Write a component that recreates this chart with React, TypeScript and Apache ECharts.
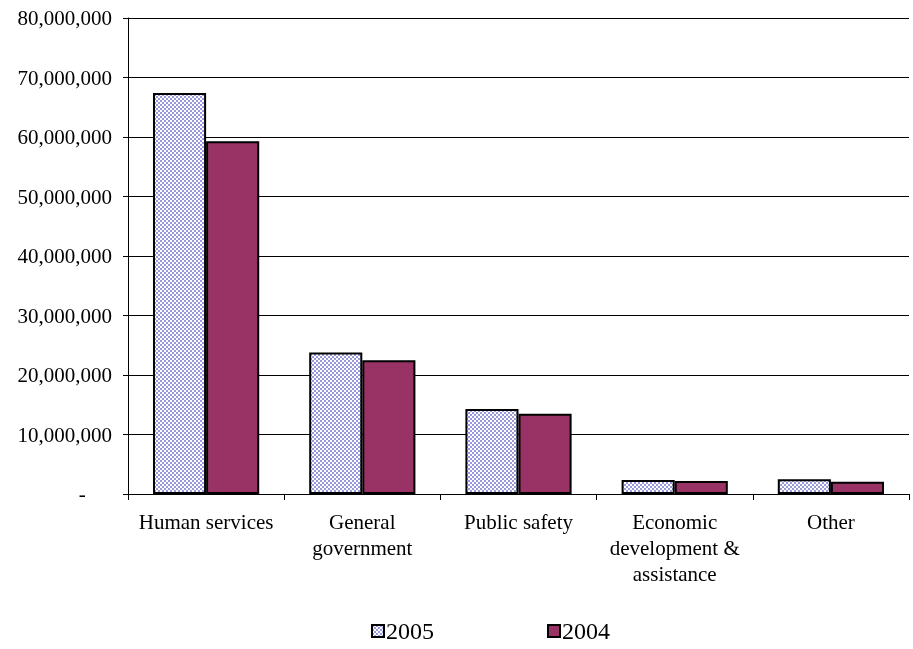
import React, { useEffect, useRef } from "react";
import * as echarts from "echarts";

const categories = [
  "Human services",
  "General\ngovernment",
  "Public safety",
  "Economic\ndevelopment &\nassistance",
  "Other",
];
const series2005 = [67400000, 23800000, 14300000, 2350000, 2500000];
const series2004 = [59300000, 22500000, 13500000, 2200000, 2050000];
const seriesNames = ["2005", "2004"];

function makePattern(): HTMLCanvasElement {
  const c = document.createElement("canvas");
  c.width = 4;
  c.height = 4;
  const ctx = c.getContext("2d")!;
  ctx.fillStyle = "#ffffff";
  ctx.fillRect(0, 0, 4, 4);
  ctx.fillStyle = "#9999dd";
  ctx.fillRect(0, 0, 2, 2);
  ctx.fillRect(2, 2, 2, 2);
  return c;
}

const FONT = "Liberation Serif";

export default function App() {
  const ref = useRef<HTMLDivElement>(null);
  useEffect(() => {
    if (!ref.current) return;
    const chart = echarts.init(ref.current, undefined, { renderer: "svg" });
    const pattern = makePattern();
    chart.setOption({
      animation: false,
      textStyle: { fontFamily: FONT, fontSize: 21 },
      grid: { left: 128, right: 4, top: 18, bottom: 155, containLabel: false },
      legend: {
        bottom: 1,
        left: 366,
        itemGap: 113,
        itemWidth: 12,
        itemHeight: 12,
        icon: "rect",
        textStyle: { fontFamily: FONT, fontSize: 24, color: "#000", padding: [0, 0, 0, -3] },
        data: seriesNames,
      },
      xAxis: {
        type: "category",
        data: categories,
        axisLine: { lineStyle: { color: "#000", width: 1 } },
        axisTick: { show: true, length: 6, lineStyle: { color: "#000" } },
        axisLabel: {
          color: "#000",
          fontFamily: FONT,
          fontSize: 21,
          lineHeight: 26,
          margin: 15,
          interval: 0,
        },
      },
      yAxis: {
        type: "value",
        min: 0,
        max: 80000000,
        interval: 10000000,
        axisLine: { show: true, lineStyle: { color: "#000", width: 1 } },
        axisTick: { show: true, inside: false, length: 5, lineStyle: { color: "#000" } },
        splitLine: { lineStyle: { color: "#000", width: 1 } },
        axisLabel: {
          color: "#000",
          fontFamily: FONT,
          fontSize: 21,
          margin: 16,
          formatter: (v: number) =>
            v === 0 ? "-     " : v.toString().replace(/\B(?=(\d{3})+(?!\d))/g, ","),
        },
      },
      series: [
        {
          name: seriesNames[0],
          type: "bar",
          data: series2005,
          barGap: "0%",
          barCategoryGap: "32%",
          itemStyle: {
            color: { image: pattern, repeat: "repeat" },
            borderColor: "#000",
            borderWidth: 2,
          },
        },
        {
          name: seriesNames[1],
          type: "bar",
          data: series2004,
          barGap: "0%",
          barCategoryGap: "32%",
          itemStyle: { color: "#993366", borderColor: "#000", borderWidth: 2 },
        },
      ],
    });
    return () => chart.dispose();
  }, []);
  return (
    <div
      ref={ref}
      style={{ position: "fixed", left: 0, top: 0, width: 913, height: 649 }}
    />
  );
}
